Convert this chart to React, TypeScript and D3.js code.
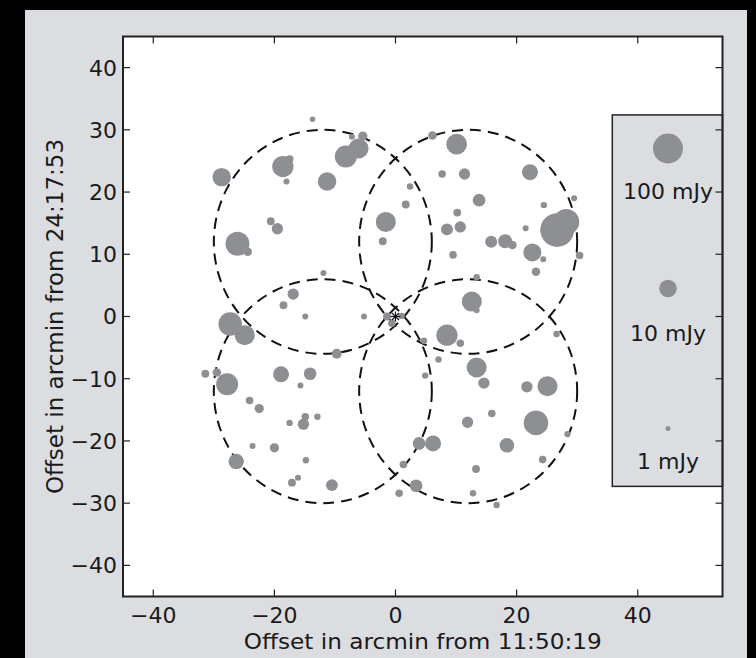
import React, { useEffect } from 'react';
import * as d3 from 'd3';

const W = 756;
const H = 658;

// Source positions (arcmin offsets) and fluxes (mJy)
const srcX = [-13.7, -28.7, -18.6, -17.5, -18.0, -11.3, -20.6, -19.5, -26.1, -24.4, -16.9, -18.5, -7.2, -5.4, -6.1, -8.2, 6.1, 10.1, 7.7, 11.4, 22.2, 2.4, 1.7, 13.8, 10.2, -1.6, 8.5, 10.7, 29.5, 24.5, 26.7, 28.2, 21.5, -2.1, 15.8, 18.1, 19.3, 22.6, 24.4, 30.4, 9.5, 23.2, -11.9, 13.4, 12.6, 13.4, -14.9, -27.3, -24.9, -31.4, -29.5, -27.8, -18.9, -14.1, -15.7, -24.1, -22.5, -17.5, -14.9, -15.2, -12.9, -23.6, -20.0, -14.8, -26.3, -16.1, -17.1, -5.2, -1.4, -0.6, 1.0, 8.5, 10.7, 4.7, 26.6, -9.7, 7.1, 13.4, 14.6, 4.9, 21.7, 25.1, 11.9, 15.9, 23.2, 28.4, 3.9, 6.2, 18.4, 24.3, 1.3, 13.3, -10.5, 3.4, 0.6, 12.8, 16.7];
const srcY = [31.7, 22.4, 24.1, 25.3, 21.7, 21.7, 15.3, 14.1, 11.7, 10.4, 3.6, 1.8, 28.9, 29.0, 27.0, 25.7, 29.1, 27.7, 22.9, 22.9, 23.2, 20.9, 18.0, 18.7, 16.7, 15.2, 14.0, 14.4, 19.0, 17.9, 13.9, 15.2, 14.2, 12.1, 12.0, 12.1, 11.5, 10.3, 9.2, 9.8, 9.9, 7.2, 7.0, 6.3, 2.4, 1.0, 0.0, -1.2, -3.0, -9.2, -9.0, -10.9, -9.3, -9.2, -11.1, -13.5, -14.8, -17.1, -16.1, -17.3, -16.1, -20.8, -21.1, -23.1, -23.3, -25.9, -26.7, 0.0, 0.0, -1.1, 0.1, -3.0, -4.3, -3.9, -2.8, -6.0, -6.9, -8.2, -10.7, -9.5, -11.3, -11.2, -17.0, -15.6, -17.1, -18.9, -20.4, -20.4, -20.7, -23.0, -23.8, -24.5, -27.1, -27.2, -28.4, -28.4, -30.3];
const srcFlux = [1.1, 12, 20, 1.7, 1.2, 12, 1.7, 3.2, 33, 1.9, 3.2, 1.7, 1.2, 2.2, 16, 23, 1.9, 18, 1.6, 3.2, 7.6, 1.3, 1.7, 4.1, 1.7, 16, 3.6, 3.2, 1.2, 1.3, 200, 48, 1.2, 1.7, 3.6, 5.2, 1.9, 11, 1.2, 1.6, 1.6, 1.9, 1.2, 1.3, 16, 1.2, 1.2, 30, 16, 1.7, 1.9, 23, 7.6, 4.1, 1.2, 1.6, 2.2, 1.3, 1.6, 3.2, 1.3, 1.2, 2.2, 1.3, 6.8, 1.2, 1.7, 1.2, 1.7, 1.6, 1.3, 20, 1.6, 1.3, 1.3, 2.5, 1.3, 16, 3.2, 1.3, 3.2, 16, 3.2, 1.6, 37, 1.3, 4.1, 7.6, 5.9, 1.6, 1.6, 1.7, 3.6, 4.1, 1.6, 1.3, 1.3];

// Pointing centres and primary-beam radius (arcmin)
const pointX = [-12, 12, -12, 12];
const pointY = [12, 12, -12, -12];
const beamRadius = 18;

const xTicks = [-40, -20, 0, 20, 40];
const yTicks = [40, 30, 20, 10, 0, -10, -20, -30, -40];

const legendFlux = [100, 10, 1];
const legendLabels = ['100 mJy', '10 mJy', '1 mJy'];

const xLabel = 'Offset in arcmin from 11:50:19';
const yLabel = 'Offset in arcmin from 24:17:53';

const FONT = 'DejaVu Sans, sans-serif';
const GRAY_BG = '#dcdde0';
const DOT = '#8e8f93';

const fmt = (v: number) => (v < 0 ? '\u2212' + Math.abs(v) : String(v));

export default function App() {
  useEffect(() => {
    document.body.style.margin = '0';
    document.body.style.background = '#000';
  }, []);

  const left = 123, right = 722.5, top = 36.5, bottom = 596.5;
  const x = d3.scaleLinear().domain([-45, 54]).range([left, right]);
  const y = d3.scaleLinear().domain([-45, 45]).range([bottom, top]);
  const r = d3.scaleLinear().domain([0, 2]).range([2.5, 15]);
  const rad = (f: number) => r(Math.log10(f));

  const pts = srcX.map((vx, i) => ({ x: vx, y: srcY[i], f: srcFlux[i] }));
  const tickLen = 7;

  // legend layout (data coords)
  const legX0 = 35.8, legTop = 32.4, legBottom = -27.3, legCx = 45;
  const legMarkY = [27, 4.5, -18];
  const legTextY = [20.1, -2.6, -23.3];

  const starCx = x(0), starCy = y(0);

  return (
    <div style={{ position: 'absolute', left: 0, top: 0, width: W, height: H, background: '#000' }}>
      <svg width={W} height={H} style={{ display: 'block' }} fontFamily={FONT}>
        <rect x={0} y={0} width={W} height={H} fill="#000" />
        <rect x={25} y={10} width={722} height={H - 10} fill={GRAY_BG} />
        <rect x={left} y={top} width={right - left} height={bottom - top} fill="#fff" />

        {/* primary beams */}
        {pointX.map((px, i) => (
          <ellipse
            key={'b' + i}
            cx={x(px)}
            cy={y(pointY[i])}
            rx={x(beamRadius) - x(0)}
            ry={y(0) - y(beamRadius)}
            fill="none"
            stroke="#111"
            strokeWidth={2}
            strokeDasharray="11 7"
          />
        ))}

        {/* sources */}
        {pts.map((p, i) => (
          <circle key={'p' + i} cx={x(p.x)} cy={y(p.y)} r={rad(p.f)} fill={DOT} />
        ))}

        {/* centre asterisk */}
        <g stroke="#111" strokeWidth={1.2}>
          {[0, 45, 90, 135].map((a) => {
            const t = (a * Math.PI) / 180;
            const L = 5;
            return (
              <line
                key={'s' + a}
                x1={starCx - L * Math.cos(t)}
                y1={starCy - L * Math.sin(t)}
                x2={starCx + L * Math.cos(t)}
                y2={starCy + L * Math.sin(t)}
              />
            );
          })}
        </g>

        {/* legend box */}
        <rect
          x={x(legX0)}
          y={y(legTop)}
          width={right - x(legX0)}
          height={y(legBottom) - y(legTop)}
          fill={GRAY_BG}
          stroke="#222"
          strokeWidth={1.5}
        />
        {legendFlux.map((f, i) => (
          <g key={'l' + i}>
            <circle cx={x(legCx)} cy={y(legMarkY[i])} r={rad(f)} fill={DOT} />
            <text
              x={x(legCx)}
              y={y(legTextY[i])}
              dy="0.36em"
              textAnchor="middle"
              fontSize={22}
              fill="#1a1a1a"
            >
              {legendLabels[i]}
            </text>
          </g>
        ))}

        {/* ticks */}
        <g stroke="#222" strokeWidth={1.2}>
          {xTicks.map((t) => (
            <g key={'xt' + t}>
              <line x1={x(t)} x2={x(t)} y1={bottom} y2={bottom - tickLen} />
              <line x1={x(t)} x2={x(t)} y1={top} y2={top + tickLen} />
            </g>
          ))}
          {yTicks.map((t) => (
            <g key={'yt' + t}>
              <line x1={left} x2={left + tickLen} y1={y(t)} y2={y(t)} />
              <line x1={right} x2={right - tickLen} y1={y(t)} y2={y(t)} />
            </g>
          ))}
        </g>

        {/* frame */}
        <rect x={left} y={top} width={right - left} height={bottom - top} fill="none" stroke="#222" strokeWidth={2} />

        {/* tick labels */}
        {xTicks.map((t) => (
          <text key={'xl' + t} x={x(t)} y={bottom + 26} textAnchor="middle" fontSize={22} fill="#1a1a1a">
            {fmt(t)}
          </text>
        ))}
        {yTicks.map((t) => (
          <text key={'yl' + t} x={left - 6} y={y(t)} dy="0.36em" textAnchor="end" fontSize={22} fill="#1a1a1a">
            {fmt(t)}
          </text>
        ))}

        {/* axis labels */}
        <text
          x={(left + right) / 2}
          y={649}
          textAnchor="middle"
          fontSize={22}
          textLength={358}
          lengthAdjust="spacingAndGlyphs"
          fill="#1a1a1a"
        >
          {xLabel}
        </text>
        <text
          transform={`translate(63, ${(top + bottom) / 2}) rotate(-90)`}
          textAnchor="middle"
          fontSize={23}
          fill="#1a1a1a"
        >
          {yLabel}
        </text>
      </svg>
    </div>
  );
}
